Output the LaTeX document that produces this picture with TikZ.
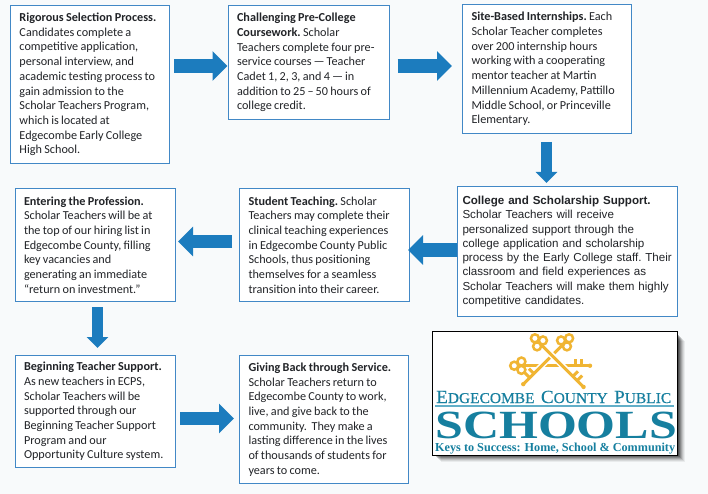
\documentclass[tikz,border=0pt]{standalone}
\usepackage{fontspec}
\setmainfont{Carlito}
\newfontfamily\arialf{Liberation Sans}
\newfontfamily\timesf{Liberation Serif}
\newfontfamily\schoolsf[FakeStretch=1.25]{Liberation Serif}
\newfontfamily\districtf[FakeStretch=1.03,FakeBold=0.4]{Liberation Serif}
\usetikzlibrary{arrows.meta}
\definecolor{pagebg}{HTML}{F8FAFB}
\definecolor{boxline}{HTML}{4288C6}
\definecolor{txt}{HTML}{222428}
\definecolor{arrowblue}{HTML}{1C7CBE}
\definecolor{gold}{HTML}{F0B533}
\definecolor{teal}{HTML}{167F9F}
\definecolor{tealrule}{HTML}{62AFC8}
\tikzset{
  flowbox/.style={draw=boxline,line width=1pt,fill=white,anchor=north west,
    align=left,inner ysep=0pt,inner xsep=9pt,text=txt,
    execute at begin node={\hyphenpenalty=10000 \rightskip=-30pt plus 1fil\relax\frenchspacing},
    font=\fontsize{12.2}{14.7}\selectfont},
  narrowspace/.style={execute at begin node={\spaceskip=.19em\relax}},
  carlitobox/.style={flowbox,narrowspace},
  arialbox/.style={flowbox,inner xsep=5pt,font=\arialf\fontsize{11.6}{14.2}\selectfont},
  harrow/.style={draw=arrowblue,line width=13.5pt,-{Triangle[length=15pt,width=29pt]}},
  varrow/.style={draw=arrowblue,line width=10.5pt,-{Triangle[length=11pt,width=21pt]}},
  keyline/.style={draw=gold,line width=3pt},
  logotext/.style={text=teal,inner sep=0pt,anchor=base west}
}
\newcommand{\goldkey}[5]{%
  \begin{scope}[shift={(#1,#2)},rotate=#3,yscale=#5]
    \draw[white,line width=6pt] (8,0) -- (#4-12,0);
    \draw[keyline] (5,0) -- (#4,0);
    \draw[keyline] (#4-15,0) -- ++(0,-7);
    \draw[keyline] (#4-9,0) -- ++(0,-7);
    \fill[gold] (#4,0) circle (2.2);
    \foreach \ang in {60,180,300}
      \draw[keyline,line width=2.5pt] (\ang:4.8) circle (4);
  \end{scope}}
\begin{document}
\begin{tikzpicture}[x=1pt,y=-1pt]
\useasboundingbox (0,0) rectangle (708,494);
\fill[pagebg] (0,0) rectangle (708,494);

\node[carlitobox,text width=141pt,minimum height=158pt] (selection) at (10,5)
 {\textbf{Rigorous Selection Process.}\\Candidates complete a\\competitive application,\\personal interview, and\\academic testing process to\\gain admission to the\\Scholar Teachers Program,\\which is located at\\Edgecombe Early College\\High School.};
\node[carlitobox,text width=143pt,minimum height=114pt] (course) at (227.5,5)
 {\textbf{Challenging Pre-College}\\\textbf{Coursework.} Scholar\\Teachers complete four pre-\\service courses\,—\,Teacher\\Cadet 1, 2, 3, and 4\,—\,in\\addition to 25\,–\,50 hours of\\college credit.};
\node[carlitobox,text width=151pt,minimum height=129pt] (site) at (462,4)
 {\textbf{Site-Based Internships.} Each\\Scholar Teacher completes\\over 200 internship hours\\working with a cooperating\\mentor teacher at Martin\\Millennium Academy, Pattillo\\Middle School, or Princeville\\Elementary.};
\node[arialbox,text width=210pt,minimum height=130pt] (college) at (457,186)
 {\textbf{College and Scholarship Support.}\\Scholar Teachers will receive\\personalized support through the\\college application and scholarship\\process by the Early College staff. Their\\classroom and field experiences as\\Scholar Teachers will make them highly\\competitive candidates.};
\node[carlitobox,text width=152pt,minimum height=113pt] (student) at (239,188)
 {\textbf{Student Teaching.} Scholar\\Teachers may complete their\\clinical teaching experiences\\in Edgecombe County Public\\Schools, thus positioning\\themselves for a seamless\\transition into their career.};
\node[carlitobox,text width=142pt,minimum height=113pt] (profession) at (14.5,188)
 {\textbf{Entering the Profession.}\\Scholar Teachers will be at\\the top of our hiring list in\\Edgecombe County, filling\\key vacancies and\\generating an immediate\\“return on investment.”};
\node[carlitobox,text width=142pt,minimum height=112pt] (beginning) at (14.5,355)
 {\textbf{Beginning Teacher Support.}\\As new teachers in ECPS,\\Scholar Teachers will be\\supported through our\\Beginning Teacher Support\\Program and our\\Opportunity Culture system.};
\node[carlitobox,text width=151pt,minimum height=128pt] (service) at (239,355)
 {\textbf{Giving Back through Service.}\\Scholar Teachers return to\\Edgecombe County to work,\\live, and give back to the\\community.\ \ They make a\\lasting difference in the lives\\of thousands of students for\\years to come.};

\draw[harrow,shorten <=4pt] ([yshift=18.5pt]selection.east) -- ([yshift=-3.5pt]course.west);
\draw[harrow,shorten <=8pt,shorten >=10pt] ([yshift=-3.5pt]course.east) -- ([yshift=3pt]site.west);
\draw[varrow,shorten <=8pt,shorten >=3pt] ([xshift=-0.5pt]site.south) -- ([xshift=-21pt]college.north);
\draw[harrow] ([yshift=1.5pt]college.west) -- ([yshift=-5pt,xshift=-2pt]student.east);
\draw[harrow,shorten <=7pt,shorten >=2.5pt] ([yshift=3.5pt]student.west) -- ([yshift=3.5pt]profession.east);
\draw[varrow,shorten <=5pt,shorten >=7pt] ([xshift=2.5pt]profession.south) -- ([xshift=2.5pt]beginning.north);
\draw[harrow,shorten <=4.5pt,shorten >=5pt] ([yshift=-7pt]beginning.east) -- ([yshift=1pt]service.west);

% logo
\foreach \o/\c in {8/06,7/08,6/10,5/14,4/18,3/22,2/25}
  \fill[black,opacity=.\c] (432+\o+1,331+\o+2) rectangle (677+\o,455+\o-1);
\draw[black,line width=1pt,fill=white] (432,331) rectangle (677,455);
\goldkey{519}{365.7}{0}{71}{1}
\goldkey{565.7}{341.7}{-135}{60}{-1}
\goldkey{538.3}{341.7}{-45}{64}{1}
\node[logotext,font=\districtf] (district) at (436,403) {{\fontsize{18.5}{18}\selectfont E}{\fontsize{15}{18}\selectfont DGECOMBE\ } {\fontsize{18.5}{18}\selectfont C}{\fontsize{15}{18}\selectfont OUNTY\ } {\fontsize{18.5}{18}\selectfont P}{\fontsize{15}{18}\selectfont UBLIC}};
\fill[tealrule] (435,404.5) rectangle (674,406.5);
\node[logotext,font=\schoolsf\bfseries\fontsize{40}{40}\selectfont] (schools) at (435,438) {SCHOOLS};
\node[logotext,font=\timesf\bfseries\fontsize{12.2}{14}\selectfont] (motto) at (435,451.5) {Keys to Success: Home, School \& Community};
\end{tikzpicture}
\end{document}
